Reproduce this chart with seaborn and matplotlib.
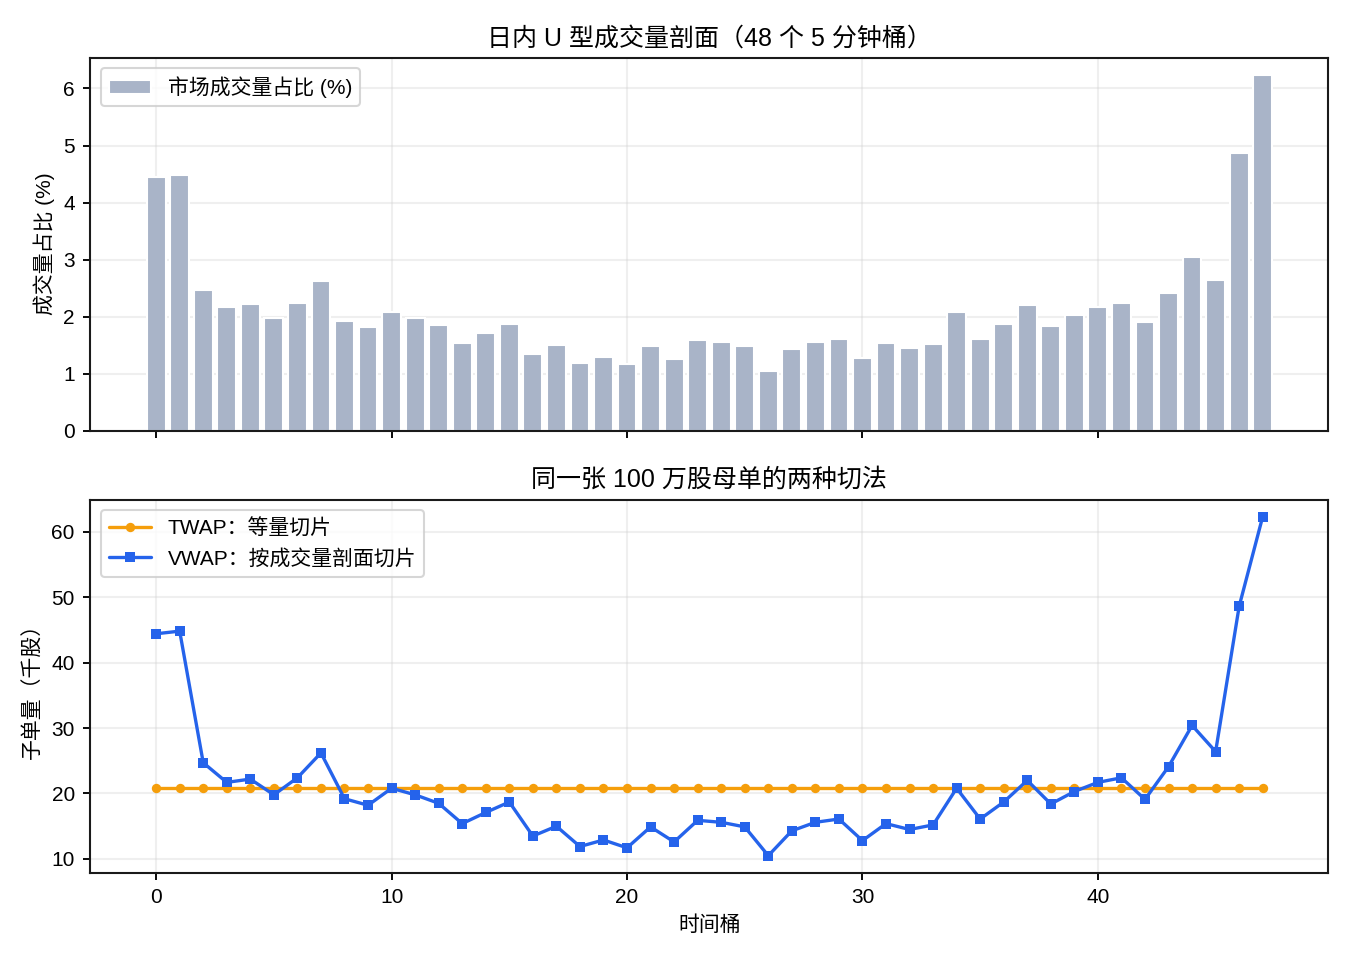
import matplotlib
matplotlib.use("Agg")
import matplotlib.pyplot as plt
import seaborn as sns
import numpy as np

# 48 five-minute buckets
buckets = list(range(48))

# market volume share per bucket (%)
volume_pct = [4.44, 4.48, 2.47, 2.17, 2.22, 1.98, 2.24, 2.62, 1.92, 1.82,
              2.08, 1.98, 1.85, 1.54, 1.71, 1.87, 1.35, 1.50, 1.19, 1.29,
              1.17, 1.49, 1.26, 1.59, 1.56, 1.49, 1.05, 1.43, 1.56, 1.61,
              1.28, 1.54, 1.45, 1.52, 2.08, 1.61, 1.87, 2.20, 1.84, 2.03,
              2.17, 2.24, 1.91, 2.41, 3.04, 2.64, 4.86, 6.23]

# child order size per bucket (thousand shares)
twap_shares = [20.83] * 48
vwap_shares = [44.4, 44.8, 24.7, 21.7, 22.2, 19.8, 22.4, 26.2, 19.2, 18.2,
               20.8, 19.8, 18.5, 15.4, 17.1, 18.7, 13.5, 15.0, 11.9, 12.9,
               11.7, 14.9, 12.6, 15.9, 15.6, 14.9, 10.5, 14.3, 15.6, 16.1,
               12.8, 15.4, 14.5, 15.2, 20.8, 16.1, 18.7, 22.0, 18.4, 20.3,
               21.7, 22.4, 19.1, 24.1, 30.4, 26.4, 48.6, 62.3]

sns.set_theme(style="ticks")
plt.rcParams['font.family'] = ['Liberation Sans', 'Noto Sans CJK SC', 'DejaVu Sans']
plt.rcParams['axes.edgecolor'] = '#1a1a1a'
plt.rcParams['axes.linewidth'] = 1.0
plt.rcParams['text.color'] = 'black'
plt.rcParams['axes.labelcolor'] = 'black'
plt.rcParams['xtick.color'] = 'black'
plt.rcParams['ytick.color'] = 'black'
plt.rcParams['xtick.major.size'] = 3.5
plt.rcParams['ytick.major.size'] = 3.5
plt.rcParams['xtick.major.width'] = 0.9
plt.rcParams['ytick.major.width'] = 0.9

fig, (ax1, ax2) = plt.subplots(2, 1, figsize=(9, 6.4), dpi=150, sharex=True)

# top: volume profile bars
sns.barplot(x=buckets, y=volume_pct, native_scale=True, color='#a9b4c8',
            saturation=1, width=0.8, label='市场成交量占比 (%)', ax=ax1)
ax1.set_title('日内 U 型成交量剖面（48 个 5 分钟桶）', fontsize=12)
ax1.set_ylabel('成交量占比 (%)', fontsize=10)
ax1.grid(True, alpha=0.3)
ax1.set_axisbelow(True)
ax1.legend(loc='upper left', fontsize=10)

# bottom: TWAP vs VWAP slicing
sns.lineplot(x=buckets, y=twap_shares, color='#f59e0b', marker='o',
             markersize=4.5, markeredgewidth=0, linewidth=1.6,
             label='TWAP：等量切片', ax=ax2)
sns.lineplot(x=buckets, y=vwap_shares, color='#2563eb', marker='s',
             markersize=5, markeredgewidth=0, linewidth=1.6,
             label='VWAP：按成交量剖面切片', ax=ax2)
ax2.set_title('同一张 100 万股母单的两种切法', fontsize=12)
ax2.set_ylabel('子单量（千股）', fontsize=10)
ax2.set_xlabel('时间桶', fontsize=10)
ax2.grid(True, alpha=0.3)
ax2.legend(loc='upper left', fontsize=10)

ax2.set_xticks([0, 10, 20, 30, 40])
ax2.set_xticklabels(['0', '10', '20', '30', '40'])
for ax in (ax1, ax2):
    ax.tick_params(labelsize=10, pad=4)

plt.subplots_adjust(left=0.067, right=0.984, top=0.94, bottom=0.091, hspace=0.185)
plt.savefig('out.png')
